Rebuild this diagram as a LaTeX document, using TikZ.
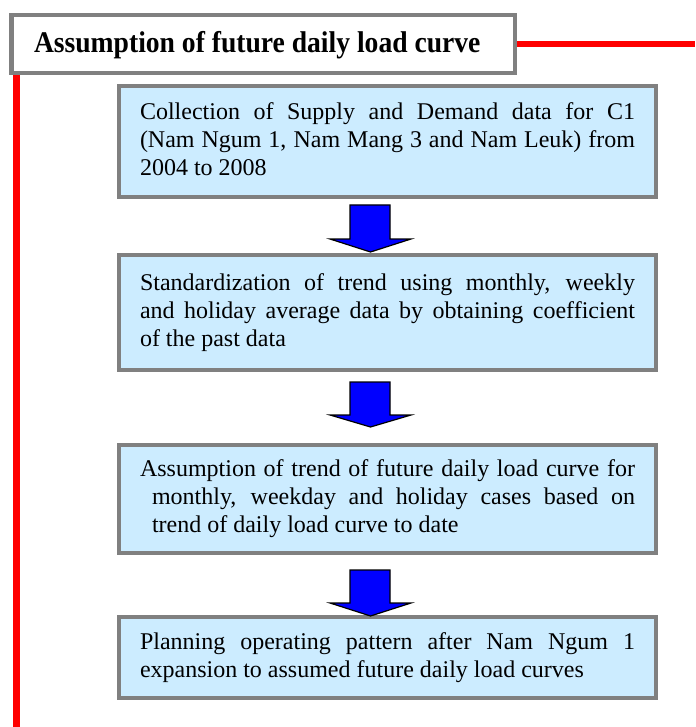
\documentclass[tikz,border=0pt]{standalone}
\usepackage{fontspec}
\setmainfont{Liberation Serif}
\newfontfamily\titlefont[FakeStretch=0.92]{Liberation Serif}
\usetikzlibrary{backgrounds}
\definecolor{boxblue}{RGB}{204,236,255}
\definecolor{bordergray}{RGB}{128,128,128}
\begin{document}
\tolerance=10000
\hyphenpenalty=10000
\exhyphenpenalty=10000
\hbadness=10000
\begin{tikzpicture}[x=1pt,y=-1pt,
  titlebox/.style={draw=bordergray, line width=4.5pt, fill=white,
    minimum width=503.5pt, minimum height=58pt,
    inner xsep=0pt, inner ysep=0pt,
    text height=20pt, text depth=2pt,
    font=\titlefont\fontsize{30}{34}\selectfont\bfseries},
  stepbox/.style={draw=bordergray, line width=4pt, fill=boxblue,
    text width=495pt, inner xsep=21pt, inner ysep=0pt, align=justify,
    font=\fontsize{24}{28}\selectfont},
  redline/.style={draw=red, line width=6.5pt},
  barrow/.style={draw=black, line width=1.2pt, fill=blue, line join=miter}]
\useasboundingbox (0,0) rectangle (695,727);

% title
\node[titlebox] (title) at (263.25,44)
  {\makebox[458.5pt][l]{Assumption of future daily load curve}};

% steps
\node[stepbox, minimum height=111pt] (b1) at (387.5,141.5)
  {\strut Collection of Supply and Demand data for C1\linebreak
   (Nam Ngum 1, Nam Mang 3 and Nam Leuk) from\linebreak
   2004 to 2008\strut};
\node[stepbox, minimum height=115pt] (b2) at (387.5,312.5)
  {\strut Standardization of trend using monthly, weekly\linebreak
   and holiday average data by obtaining coefficient\linebreak
   of the past data\strut};
\node[stepbox, minimum height=108pt] (b3) at (387.5,499)
  {\strut Assumption of trend of future daily load curve for\linebreak
   \hspace*{12pt}monthly, weekday and holiday cases based on\linebreak
   \hspace*{12pt}trend of daily load curve to date\strut};
\node[stepbox, minimum height=81pt] (b4) at (387.5,657.5)
  {\strut Planning operating pattern after Nam Ngum 1\linebreak
   expansion to assumed future daily load curves\strut};

% block arrows
\draw[barrow] (350,205) -- (390,205) -- (390,239) -- (411,239) -- (370.5,252)
  -- (330,239) -- (350,239) -- cycle;
\draw[barrow] (350,382) -- (390,382) -- (390,415) -- (411,415) -- (370.5,427)
  -- (330,415) -- (350,415) -- cycle;
\draw[barrow] (350,570) -- (390,570) -- (390,603) -- (411,603) -- (370.5,616)
  -- (330,603) -- (350,603) -- cycle;

% red lines
\coordinate (redend) at (695,44.5);
\coordinate (vtop) at (16.3,60);
\coordinate (vbot) at (16.3,727);
\begin{scope}[on background layer]
  \draw[redline] (title.east) -- (title.east -| redend);
  \draw[redline, line width=7pt] (vtop) -- (vbot);
\end{scope}
\end{tikzpicture}
\end{document}
